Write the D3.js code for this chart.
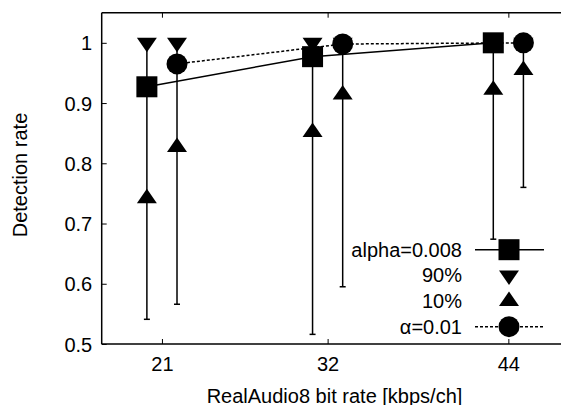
<!DOCTYPE html>
<html>
<head>
<meta charset="utf-8">
<script src="https://cdn.jsdelivr.net/npm/d3@7"></script>
<style>
  html, body { margin: 0; padding: 0; background: #fff; }
  svg { display: block; }
  text { font-family: "Liberation Sans", Arial, Helvetica, sans-serif; fill: #000; }
</style>
</head>
<body>
<svg id="chart" width="561" height="405"></svg>
<script>
// Bit rates (kbps/ch) on the x axis
const bitrates = [21, 32, 44];

// alpha = 0.008: mean detection rate, 90th / 10th percentile, lowest value
const alpha008Mean = [0.927, 0.977, 1.0];
const alpha008P90  = [1.0, 1.0, 1.0];
const alpha008P10  = [0.742, 0.852, 0.922];
const alpha008Min  = [0.541, 0.516, 0.674];

// alpha = 0.01
const alpha01Mean = [0.965, 0.998, 1.0];
const alpha01P90  = [1.0, 1.0, 1.0];
const alpha01P10  = [0.827, 0.914, 0.955];
const alpha01Min  = [0.566, 0.595, 0.760];

const yTicks = [0.5, 0.6, 0.7, 0.8, 0.9, 1];
const legendLabels = ["alpha=0.008", "90%", "10%", "\u03b1=0.01"];

const svg = d3.select("#chart");
const FONT = 20;

const x = d3.scaleLinear().domain([17, 48]).range([101.7, 568.6]);
const y = d3.scaleLinear().domain([0.5, 1.05]).range([344, 12.7]);

// frame
const frame = svg.append("g").attr("fill", "none").attr("stroke", "#000").attr("stroke-width", 1.5);
frame.append("line").attr("x1", x(17)).attr("x2", x(48)).attr("y1", y(0.5)).attr("y2", y(0.5));
frame.append("line").attr("x1", x(17)).attr("x2", x(48)).attr("y1", y(1.05)).attr("y2", y(1.05));
frame.append("line").attr("x1", x(17)).attr("x2", x(17)).attr("y1", y(0.5)).attr("y2", y(1.05));

// axes with inward ticks
const xAxis = svg.append("g").attr("transform", `translate(0,${y(0.5)})`)
  .call(d3.axisBottom(x).tickValues(bitrates).tickSize(-5).tickPadding(0).tickFormat(d3.format("d")));
xAxis.select(".domain").remove();
xAxis.selectAll(".tick line").attr("stroke-width", 1);
xAxis.selectAll("text").attr("font-size", FONT).attr("font-family", null).attr("dy", null).attr("y", 27.3);

const xTop = svg.append("g").attr("transform", `translate(0,${y(1.05)})`)
  .call(d3.axisTop(x).tickValues(bitrates).tickSize(-5).tickFormat(""));
xTop.select(".domain").remove();
xTop.selectAll(".tick line").attr("stroke-width", 1);

const yAxis = svg.append("g").attr("transform", `translate(${x(17)},0)`)
  .call(d3.axisLeft(y).tickValues(yTicks).tickSize(-5).tickFormat(d => d3.format("")(d)));
yAxis.select(".domain").remove();
yAxis.selectAll(".tick line").attr("stroke-width", 1);
yAxis.selectAll("text").attr("font-size", FONT).attr("font-family", null)
  .attr("x", -9.5).attr("dy", "0.35em");

// axis titles
svg.append("text").attr("x", 334.5).attr("y", 402.5).attr("text-anchor", "middle")
  .attr("font-size", FONT).text("RealAudio8 bit rate [kbps/ch]");
svg.append("text").attr("transform", "translate(26.5,175) rotate(-90)").attr("text-anchor", "middle")
  .attr("font-size", FONT).text("Detection rate");

// marker shapes
function square(g, cx, cy) {
  g.append("rect").attr("x", cx - 10.5).attr("y", cy - 10.5).attr("width", 21).attr("height", 21).attr("fill", "#000");
}
function circle(g, cx, cy) {
  g.append("circle").attr("cx", cx).attr("cy", cy).attr("r", 10.5).attr("fill", "#000");
}
function triDown(g, cx, cy) {
  g.append("path").attr("d", `M${cx - 10},${cy - 5}L${cx + 10},${cy - 5}L${cx},${cy + 9.5}Z`).attr("fill", "#000");
}
function triUp(g, cx, cy) {
  g.append("path").attr("d", `M${cx - 10},${cy + 5}L${cx + 10},${cy + 5}L${cx},${cy - 9.5}Z`).attr("fill", "#000");
}

const series = [
  { offset: -1, mean: alpha008Mean, p90: alpha008P90, p10: alpha008P10, min: alpha008Min, marker: square, dash: null },
  { offset: 1, mean: alpha01Mean, p90: alpha01P90, p10: alpha01P10, min: alpha01Min, marker: circle, dash: "3,2" }
];

const plot = svg.append("g");
series.forEach(s => {
  const xs = bitrates.map(b => x(b + s.offset));
  // range bars from lowest value up to the 90% value
  bitrates.forEach((b, i) => {
    plot.append("line").attr("x1", xs[i]).attr("x2", xs[i])
      .attr("y1", y(s.min[i])).attr("y2", y(s.p90[i]))
      .attr("stroke", "#000").attr("stroke-width", 1.5);
    plot.append("line").attr("x1", xs[i] - 3).attr("x2", xs[i] + 3)
      .attr("y1", y(s.min[i])).attr("y2", y(s.min[i]))
      .attr("stroke", "#000").attr("stroke-width", 1.5);
  });
  // mean line
  const line = d3.line().x((d, i) => xs[i]).y(d => y(d));
  plot.append("path").datum(s.mean).attr("d", line)
    .attr("fill", "none").attr("stroke", "#000").attr("stroke-width", 1.5)
    .attr("stroke-dasharray", s.dash);
});
series.forEach(s => {
  bitrates.forEach((b, i) => {
    const cx = x(b + s.offset);
    triDown(plot, cx, y(s.p90[i]));
    triUp(plot, cx, y(s.p10[i]));
  });
});
series.forEach(s => {
  bitrates.forEach((b, i) => s.marker(plot, x(b + s.offset), y(s.mean[i])));
});

// legend
const legendRows = [249.7, 275.5, 301, 326.7];
const legend = svg.append("g");
legendLabels.forEach((lab, i) => {
  const cy = legendRows[i];
  legend.append("text").attr("x", 462).attr("y", cy + 6.8).attr("text-anchor", "end")
    .attr("font-size", FONT).text(lab);
  if (i === 0 || i === 3) {
    legend.append("line").attr("x1", 475).attr("x2", 544).attr("y1", cy).attr("y2", cy)
      .attr("stroke", "#000").attr("stroke-width", 1.5)
      .attr("stroke-dasharray", i === 3 ? "3,2" : null);
  }
  const markers = [square, triDown, triUp, circle];
  markers[i](legend, 509, cy);
});
</script>
</body>
</html>
